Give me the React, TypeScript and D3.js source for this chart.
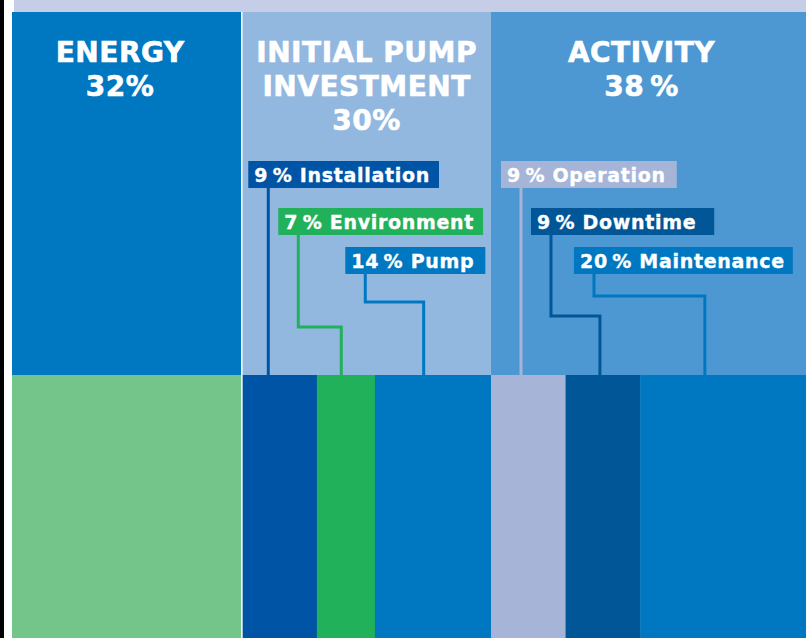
import { scaleLinear, sum } from 'd3';
import { useLayoutEffect, useRef, useState } from 'react';

const WIDTH = 806;
const HEIGHT = 638;
const TOP_Y = 12;
const SPLIT_Y = 375;
const LEFT_CLIP = 12;

// cost groups (top band)
const groups = ['ENERGY', 'INITIAL PUMP INVESTMENT', 'ACTIVITY'];
const groupShares = [32, 30, 38];
const groupTitleLines = [['ENERGY'], ['INITIAL PUMP', 'INVESTMENT'], ['ACTIVITY']];
const groupShareLabels = ['32%', '30%', '38\u2009%'];
const groupTopColors = ['#0077c1', '#93b8e0', '#4d98d2'];
const energyBottomColor = '#73c589';

// breakdown items (bottom band)
const items = ['Installation', 'Environment', 'Pump', 'Operation', 'Downtime', 'Maintenance'];
const itemShares = [9, 7, 14, 9, 9, 20];
const itemGroups = [1, 1, 1, 2, 2, 2];
const itemColors = ['#0054a5', '#21b15a', '#0078c1', '#a5b4d7', '#005697', '#0078c1'];

// label layout (pixels)
const LABEL_DX = [6, 36, 103, 10, 40, 83];
const LABEL_PAD_R = [9, 9, 11, 11, 18, 8];
const LABEL_ROW_Y = [161, 208, 247];
const LABEL_ELBOW = [0, 327, 302, 0, 316, 296];
const LABEL_H = 27;
const STUB = 20;
const ANCHOR_FRAC = [0.42, 0.42, 0.42, 0.42, 0.46, 0.39];
const TITLE_DX = [-7, 0, -7];

const FONT = "'DejaVu Sans', 'Liberation Sans', sans-serif";

export default function App() {
  const x = scaleLinear().domain([0, 100]).range([-23, WIDTH]);

  const groupStarts = groupShares.map((_, i) => sum(groupShares.slice(0, i)));
  const itemStarts = items.map((_, i) => {
    const g = itemGroups[i];
    const prev = items
      .map((_, j) => j)
      .filter(j => j < i && itemGroups[j] === g);
    return groupStarts[g] + sum(prev, j => itemShares[j]);
  });
  const itemRows = items.map((_, i) => itemGroups.slice(0, i).filter(g => g === itemGroups[i]).length);

  const textRefs = useRef<(SVGTextElement | null)[]>([]);
  const [widths, setWidths] = useState<number[]>(items.map(() => 170));

  useLayoutEffect(() => {
    const w = textRefs.current.map(t => (t ? t.getComputedTextLength() : 170));
    setWidths(w);
  }, []);

  return (
    <svg
      width={WIDTH}
      height={HEIGHT}
      viewBox={`0 0 ${WIDTH} ${HEIGHT}`}
      style={{ position: 'fixed', left: 0, top: 0, background: '#fff' }}
    >
      <defs>
        <clipPath id="plot">
          <rect x={LEFT_CLIP} y={TOP_Y} width={WIDTH - LEFT_CLIP} height={HEIGHT - TOP_Y} />
        </clipPath>
      </defs>
      <rect x={0} y={0} width={4} height={HEIGHT} fill="#000" />
      <rect x={14} y={0} width={WIDTH - 14} height={TOP_Y} fill="#c5cee6" />

      <g clipPath="url(#plot)">
        {groups.map((g, i) => (
          <rect
            key={g}
            x={x(groupStarts[i])}
            y={TOP_Y}
            width={x(groupStarts[i] + groupShares[i]) - x(groupStarts[i])}
            height={SPLIT_Y - TOP_Y}
            fill={groupTopColors[i]}
          />
        ))}
        <rect
          x={x(groupStarts[0])}
          y={SPLIT_Y}
          width={x(groupShares[0]) - x(groupStarts[0])}
          height={HEIGHT - SPLIT_Y}
          fill={energyBottomColor}
        />
        {items.map((it, i) => (
          <rect
            key={it}
            x={x(itemStarts[i])}
            y={SPLIT_Y}
            width={x(itemStarts[i] + itemShares[i]) - x(itemStarts[i]) + 0.5}
            height={HEIGHT - SPLIT_Y}
            fill={itemColors[i]}
          />
        ))}
        <line
          x1={x(groupShares[0]) - 0.5}
          x2={x(groupShares[0]) - 0.5}
          y1={TOP_Y}
          y2={HEIGHT}
          stroke="#fff"
          strokeWidth={1.5}
        />
      </g>

      {groups.map((g, i) => {
        const left = Math.max(x(groupStarts[i]), LEFT_CLIP);
        const right = x(groupStarts[i] + groupShares[i]);
        const cx = (left + right) / 2 + TITLE_DX[i];
        const lines = [...groupTitleLines[i], groupShareLabels[i]];
        return (
          <text
            key={g}
            x={cx}
            textAnchor="middle"
            fill="#fff"
            stroke="#fff"
            strokeWidth={0.6}
            fontFamily={FONT}
            fontWeight="bold"
            fontSize={28}
            letterSpacing={0.5}
          >
            {lines.map((l, k) => (
              <tspan key={k} x={cx} y={62 + k * 34}>
                {l}
              </tspan>
            ))}
          </text>
        );
      })}

      {items.map((it, i) => {
        const g = itemGroups[i];
        const row = itemRows[i];
        const boxX = x(groupStarts[g]) + LABEL_DX[i];
        const boxY = LABEL_ROW_Y[row];
        const stubX = boxX + STUB;
        const anchorX = x(itemStarts[i] + itemShares[i] * ANCHOR_FRAC[i]);
        const d =
          row === 0
            ? `M${stubX},${boxY + LABEL_H}V${SPLIT_Y}`
            : `M${stubX},${boxY + LABEL_H}V${LABEL_ELBOW[i]}H${anchorX}V${SPLIT_Y}`;
        return (
          <g key={it}>
            <path d={d} fill="none" stroke={itemColors[i]} strokeWidth={3} />
            <rect
              x={boxX}
              y={boxY}
              width={widths[i] + 6 + LABEL_PAD_R[i]}
              height={LABEL_H}
              fill={itemColors[i]}
            />
            <text
              ref={el => {
                textRefs.current[i] = el;
              }}
              x={boxX + 6}
              y={boxY + 20.5}
              fill="#fff"
              stroke="#fff"
              strokeWidth={0.35}
              fontFamily={FONT}
              fontWeight="bold"
              fontSize={19}
              letterSpacing={0.7}
            >
              {`${itemShares[i]}\u2009% ${it}`}
            </text>
          </g>
        );
      })}
    </svg>
  );
}
